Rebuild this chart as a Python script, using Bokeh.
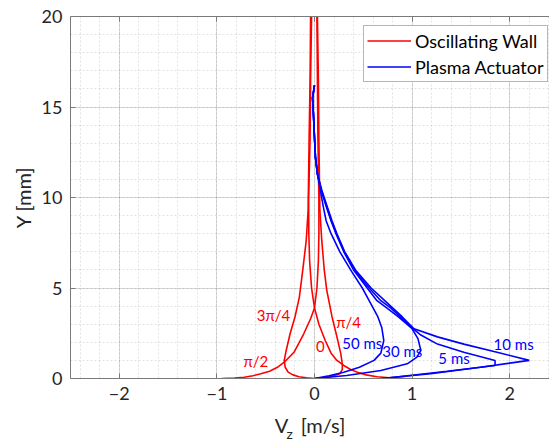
from bokeh.plotting import figure
from bokeh.models import (Range1d, LinearAxis, SingleIntervalTicker, Label, Legend,
                          LegendItem, CustomJSTickFormatter, Title)
from bokeh.embed import file_html
from bokeh.resources import INLINE

# ---------------- data ----------------
# Oscillating wall: spanwise velocity profiles at four phases
ow_labels = ["0", "\u03c0/4", "\u03c0/2", "3\u03c0/4"]
ow_y_0 = [0, 0.03, 0.1, 0.2, 0.35, 0.5, 0.72, 1.0, 1.4, 2.1, 3.0, 3.9, 5.0, 6.5, 8.0, 10.0, 13.3, 16.5, 20]
ow_v_0 = [0.93, 0.80, 0.64, 0.53, 0.44, 0.37, 0.30, 0.23, 0.17, 0.11, 0.045, 0.0, -0.03, -0.05, -0.058, -0.06, -0.045, -0.04, -0.03]
ow_y_pi4 = [0, 0.04, 0.1, 0.26, 0.5, 0.8, 1.36, 2.3, 3.4, 4.9, 6.0, 7.6, 9.3, 13.3, 16.5, 20]
ow_v_pi4 = [0, 0.08, 0.16, 0.26, 0.285, 0.285, 0.27, 0.23, 0.18, 0.125, 0.10, 0.075, 0.055, 0.045, 0.04, 0.03]
ow_y_pi2 = [0, 0.03, 0.07, 0.15, 0.26, 0.4, 0.62, 0.9, 1.45, 2.47, 3.3, 3.9, 5.0, 6.5, 8.0, 10.0, 13.3, 16.5, 20]
ow_v_pi2 = [-0.95, -0.82, -0.72, -0.63, -0.55, -0.46, -0.38, -0.31, -0.21, -0.11, -0.04, 0.0, 0.025, 0.04, 0.045, 0.045, 0.035, 0.03, 0.025]
ow_y_3pi4 = [0, 0.04, 0.1, 0.2, 0.35, 0.62, 1.0, 1.55, 2.47, 3.4, 4.5, 6.0, 7.6, 9.3, 13.3, 16.5, 20]
ow_v_3pi4 = [0, -0.08, -0.16, -0.22, -0.27, -0.30, -0.31, -0.29, -0.25, -0.20, -0.155, -0.12, -0.085, -0.065, -0.055, -0.045, -0.04]

# Plasma actuator: spanwise velocity profiles at four times
pa_labels = ["5 ms", "10 ms", "30 ms", "50 ms"]
pa_y_top = [16.2, 15.5, 14.5, 13.3, 12.2, 11.3]
pa_v_top = [0.0, -0.02, -0.01, 0.0, 0.01, 0.03]
pa_y_5 = pa_y_top + [10.4, 9.5, 8.7, 8.0, 7.0, 6.0, 5.0, 4.3, 3.9, 3.4, 2.75, 2.4, 1.9, 1.45, 1.0, 0.72, 0.4, 0]
pa_v_5 = pa_v_top + [0.07, 0.125, 0.175, 0.225, 0.305, 0.41, 0.56, 0.68, 0.78, 0.88, 1.01, 1.09, 1.26, 1.53, 1.85, 1.85, 1.36, 0.70]
pa_y_10 = pa_y_top + [10.4, 9.5, 8.7, 8.0, 7.0, 6.0, 5.0, 4.3, 3.9, 3.4, 2.75, 2.3, 1.9, 1.45, 1.0, 0.62, 0.26, 0]
pa_v_10 = pa_v_top + [0.075, 0.13, 0.18, 0.23, 0.31, 0.42, 0.58, 0.72, 0.80, 0.90, 1.02, 1.26, 1.53, 1.87, 2.2, 1.70, 1.19, 0.68]
pa_y_30 = pa_y_top + [10.4, 9.5, 8.7, 8.0, 7.0, 6.0, 5.0, 4.3, 3.9, 3.4, 2.75, 2.2, 1.55, 1.18, 0.81, 0.44, 0.17, 0]
pa_v_30 = pa_v_top + [0.07, 0.12, 0.17, 0.22, 0.30, 0.40, 0.54, 0.64, 0.74, 0.86, 1.0, 1.06, 1.09, 1.05, 0.95, 0.68, 0.33, 0.0]
pa_y_50 = pa_y_top + [10.4, 9.5, 8.7, 8.0, 7.0, 6.0, 5.0, 4.3, 3.4, 2.8, 2.1, 1.4, 1.0, 0.62, 0.35, 0.15, 0]
pa_v_50 = pa_v_top + [0.06, 0.09, 0.12, 0.17, 0.26, 0.37, 0.49, 0.56, 0.65, 0.69, 0.71, 0.68, 0.61, 0.46, 0.30, 0.15, 0.0]

legend_labels = ["Oscillating Wall", "Plasma Actuator"]
x_ticks_interval = 1
y_ticks_interval = 5

# ---------------- figure ----------------
FONT = "Lato"
RED = "#ff0000"
BLUE = "#0000ff"
AX = "#7a7a7a"
TXT = "#262626"

p = figure(width=549, height=445, x_range=Range1d(-2.5, 2.408), y_range=Range1d(0, 20),
           output_backend="svg", toolbar_location=None,
           min_border_left=70, min_border_right=0, min_border_top=16, min_border_bottom=67)
p.outline_line_color = None
p.background_fill_color = "white"
p.border_fill_color = "white"

xt = SingleIntervalTicker(interval=x_ticks_interval, num_minor_ticks=5)
yt = SingleIntervalTicker(interval=y_ticks_interval, num_minor_ticks=5)
p.xaxis.ticker = xt
p.yaxis.ticker = yt
p.xgrid.ticker = xt
p.ygrid.ticker = yt

for g in (p.xgrid, p.ygrid):
    g.grid_line_color = "#262626"
    g.grid_line_alpha = 0.16
    g.minor_grid_line_color = "#262626"
    g.minor_grid_line_alpha = 0.13
    g.minor_grid_line_dash = "2 2"

for ax in (p.xaxis, p.yaxis):
    ax.axis_line_color = AX
    ax.major_tick_line_color = AX
    ax.major_tick_in = 5
    ax.major_tick_out = 0
    ax.minor_tick_in = 0
    ax.minor_tick_out = 0
    ax.major_label_text_font = FONT
    ax.major_label_text_font_size = "18px"
    ax.major_label_text_color = TXT
    ax.axis_label_text_font = FONT
    ax.axis_label_text_font_size = "20px"
    ax.axis_label_text_font_style = "normal"
    ax.axis_label_text_color = TXT

p.xaxis.major_label_standoff = 8
p.yaxis.major_label_standoff = 8
p.yaxis.axis_label = "Y [mm]"
p.yaxis.axis_label_standoff = 4
p.xaxis.axis_label = "V\u2002\u2009[m/s]"
p.xaxis.axis_label_standoff = 10

top = LinearAxis(ticker=xt, formatter=CustomJSTickFormatter(code="return ''"))
top.axis_line_color = AX
top.major_tick_line_color = AX
top.major_tick_in = 5
top.major_tick_out = 0
top.minor_tick_in = 0
top.minor_tick_out = 0
top.major_label_text_font_size = "0px"
top.major_label_standoff = 0
p.add_layout(top, "above")

# subscript of the x-axis label
sub = Title(text="z", align="left", offset=216, standoff=-30, vertical_align="top",
            text_font=FONT, text_font_size="14px", text_font_style="normal", text_color=TXT)
p.add_layout(sub, "below")

# curves
ow_sets = [(ow_v_0, ow_y_0), (ow_v_pi4, ow_y_pi4), (ow_v_pi2, ow_y_pi2), (ow_v_3pi4, ow_y_3pi4)]
pa_sets = [(pa_v_5, pa_y_5), (pa_v_10, pa_y_10), (pa_v_30, pa_y_30), (pa_v_50, pa_y_50)]
red_r = [p.line(v, y, line_color=RED, line_width=1.6) for v, y in ow_sets]
blue_r = [p.line(v, y, line_color=BLUE, line_width=1.6) for v, y in pa_sets]

# curve annotations
ow_label_pos = [(0.06, 1.77), (0.35, 3.1), (-0.60, 0.95), (-0.42, 3.5)]
pa_label_pos = [(1.43, 1.14), (2.04, 1.92), (0.90, 1.5), (0.49, 1.95)]
for txt, (x, y) in zip(ow_labels, ow_label_pos):
    p.add_layout(Label(x=x, y=y, text=txt, text_color=RED, text_font=FONT,
                       text_font_size="15px", text_align="center", text_baseline="middle"))
for txt, (x, y) in zip(pa_labels, pa_label_pos):
    p.add_layout(Label(x=x, y=y, text=txt, text_color=BLUE, text_font=FONT,
                       text_font_size="15px", text_align="center", text_baseline="middle"))

legend = Legend(items=[LegendItem(label=legend_labels[0], renderers=[red_r[0]]),
                       LegendItem(label=legend_labels[1], renderers=[blue_r[0]])],
                location=(293, 296))
legend.border_line_color = "#6e6e6e"
legend.border_line_width = 1
legend.background_fill_color = "white"
legend.background_fill_alpha = 1.0
legend.padding = 3
legend.margin = 0
legend.spacing = 3
legend.glyph_width = 44
legend.glyph_height = 23
legend.label_height = 23
legend.label_standoff = 4
legend.label_text_font = FONT
legend.label_text_font_size = "18px"
legend.label_text_color = "#000000"
p.add_layout(legend)

open("out.html", "w").write(file_html(p, INLINE))
